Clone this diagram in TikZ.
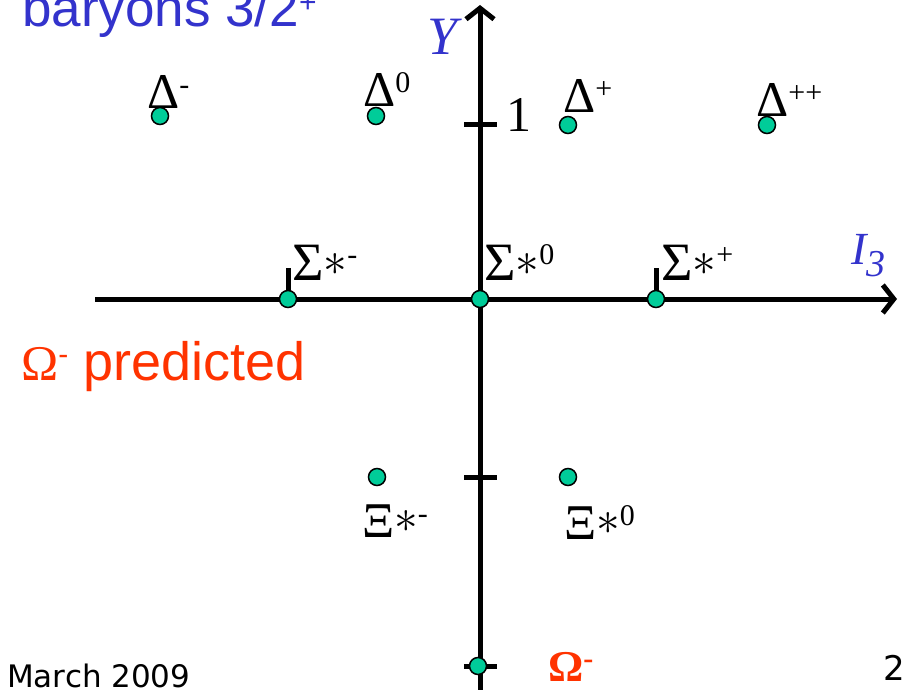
\documentclass[tikz,border=0pt]{standalone}
\usepackage{fontspec}
\usepackage{graphicx}
\setmainfont{Liberation Serif}
\setsansfont{Liberation Sans}
\newfontfamily\slidefont{DejaVu Sans}
\usetikzlibrary{arrows.meta}

\definecolor{axisblue}{RGB}{51,51,204}
\definecolor{predred}{RGB}{255,51,0}
\definecolor{dotgreen}{RGB}{0,204,153}

\newcommand{\sz}[1]{\fontsize{#1}{#1}\selectfont}
\newcommand{\up}[1]{\raisebox{0.28em}{\sz{30}#1}}
\newcommand{\st}{\raisebox{5pt}{\scalebox{1.9}{\sz{24.88}$\ast$}}}

\begin{document}
\begin{tikzpicture}[x=1pt, y=-1pt,
  >={Straight Barb[length=11pt, width=28pt]},
  axis/.style={line width=5pt, ->},
  tick/.style={line width=5pt},
  dot/.style={circle, draw=black, line width=1.5pt, fill=dotgreen,
    minimum size=17pt, inner sep=0pt},
  lbl/.style={anchor=base west, inner sep=0pt, font=\sz{50}}]

\useasboundingbox (0,0) rectangle (906,690);

% Axes
\coordinate (xl) at (95,299);
\coordinate (xr) at (897,299);
\coordinate (yb) at (480,700);
\coordinate (yt) at (480,5);
\draw[axis] (xl) -- (xr);
\draw[axis] (yb) -- (yt);

% Ticks
\foreach \y in {125, 477, 666} {
  \draw[tick] (464,\y) -- (497,\y);
}
\foreach \x in {288, 656} {
  \draw[tick] (\x,299) -- (\x,268);
}

% Multiplet points
\node[dot] (dm)   at (160,116) {};
\node[dot] (d0)   at (376,116) {};
\node[dot] (dp)   at (568,125) {};
\node[dot] (dpp)  at (767,125) {};
\node[dot] (sigm) at (288,299) {};
\node[dot] (sig0) at (480,299) {};
\node[dot] (sigp) at (656,299) {};
\node[dot] (xim)  at (377,477) {};
\node[dot] (xi0)  at (568,477) {};
\node[dot] (om)   at (478,666) {};

% Particle labels
\node[lbl] (ldm)   at (147,109) {Δ\up{-}};
\node[lbl] (ld0)   at (363,107) {Δ\up{0}};
\node[lbl] (ldp)   at (563,113) {Δ\up{+}};
\node[lbl] (ldpp)  at (756,117) {Δ\up{++}};
\node[lbl, font=\sz{54}] (lsigm) at (292,280) {Σ\st\up{-}};
\node[lbl, font=\sz{54}] (lsig0) at (484,280) {Σ\st\up{0}};
\node[lbl, font=\sz{54}] (lsigp) at (661,280) {Σ\st\up{+}};
\node[lbl, font=\sz{50}] (lxim)  at (362,537) {Ξ\st\up{-}};
\node[lbl, font=\sz{50}] (lxi0)  at (564,539) {Ξ\st\up{0}};
\node[lbl, font=\bfseries\sz{44}, text=predred] (lom) at (548,681) {Ω\up{-}};

% Axis labels
\node[lbl, font=\itshape\sz{54}, text=axisblue] (ylab) at (427,55) {Y};
\node[lbl, font=\sz{50}] (one) at (506,132) {1};
\node[lbl, font=\itshape\sz{46}, text=axisblue] (ilab) at (851,265) {I\raisebox{-12pt}{\sz{38}3}};

% Slide texts
\node[lbl, font=\sffamily\sz{53}, text=axisblue] (title) at (22,27) {baryons 3/2\up{+}};
\node[lbl, font=\sffamily\sz{54}, text=predred] (pred) at (21,380) {{\rmfamily\sz{50}Ω}\up{-} predicted};
\node[lbl, font=\slidefont\sz{31}] (date) at (7,687) {March 2009};
\node[lbl, font=\slidefont\sz{34}] (page) at (883,680) {2};

\end{tikzpicture}
\end{document}
